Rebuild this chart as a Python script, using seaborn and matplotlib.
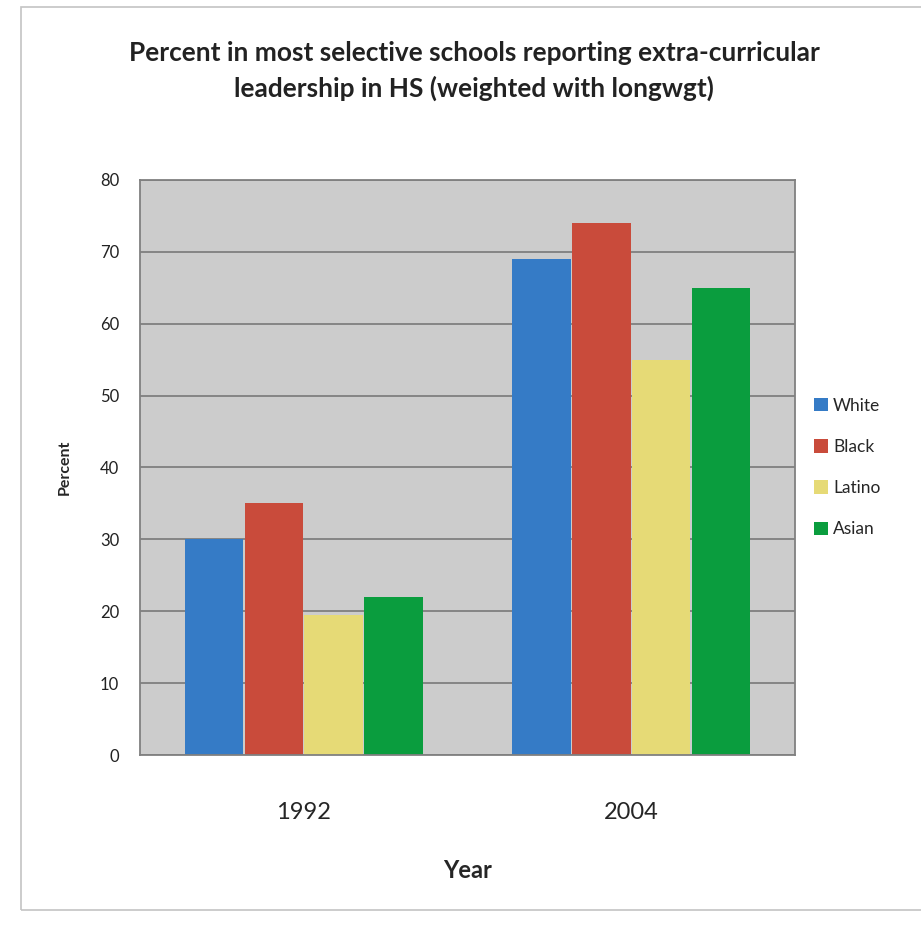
import matplotlib
matplotlib.use("Agg")
import matplotlib.pyplot as plt
from matplotlib.patches import Rectangle
import seaborn as sns
import pandas as pd

years = ["1992", "2004"]
groups = ["White", "Black", "Latino", "Asian"]
white = [30, 69]
black = [35, 74]
latino = [19.5, 55]
asian = [22, 65]
colors = ["#357BC6", "#C94B3B", "#E6DA76", "#0A9D3E"]
y_ticks = [0, 10, 20, 30, 40, 50, 60, 70, 80]
title = ("Percent in most selective schools reporting extra-curricular\n"
         "leadership in HS (weighted with longwgt)")

rows = []
for series, vals in zip(groups, [white, black, latino, asian]):
    for yr, v in zip(years, vals):
        rows.append({"Year": yr, "Group": series, "Percent": v})
df = pd.DataFrame(rows)

sns.set_theme(style="white")
plt.rcParams["font.family"] = ["Lato", "DejaVu Sans"]

W, H = 921, 926
fig = plt.figure(figsize=(W / 100, H / 100), dpi=100)
ax = fig.add_axes([140 / W, 1 - 755 / H, (795 - 140) / W, (755 - 180) / H])

# outer chart-area frame
fig.patches.append(Rectangle((21 / W, 1 - 910 / H), 2, (910 - 7) / H,
                             transform=fig.transFigure, fill=False,
                             edgecolor="#c4c4c4", linewidth=1.2))

ax.set_facecolor("#cccccc")
sns.barplot(data=df, x="Year", y="Percent", hue="Group", order=years,
            hue_order=groups, palette=colors, width=0.73, gap=0.02,
            saturation=1, linewidth=0, ax=ax, legend=True)

ax.set_ylim(0, 80)
ax.set_xlim(-0.5, 1.5)
ax.set_yticks(y_ticks)
ax.yaxis.grid(True, color="#7f7f7f", linewidth=1.3)
ax.set_axisbelow(True)
for s in ax.spines.values():
    s.set_color("#808080")
    s.set_linewidth(1.3)

ax.tick_params(axis="y", which="major", direction="out", length=6,
               color="#808080", width=1.2, labelsize=12, pad=9)
ax.tick_params(axis="x", which="major", length=0, labelsize=17, pad=34)
ax.set_xticks([-0.5, 0.5, 1.5], minor=True)
ax.tick_params(axis="x", which="minor", direction="out", length=6,
               color="#808080", width=1.2)
for t in ax.get_yticklabels():
    t.set_color("#222222")

ax.set_xlabel("Year", fontsize=17, fontweight="bold", labelpad=26)
ax.set_ylabel("Percent", fontsize=11.5, fontweight="bold", labelpad=20)

fig.text(474 / W, 1 - 71 / H, title, ha="center", va="center",
         fontsize=18.9, fontweight="bold", linespacing=1.5, color="#222222")

handles, labels = ax.get_legend_handles_labels()
ax.legend(handles, labels, loc="center left", bbox_to_anchor=(1.005, 0.5),
          frameon=False, fontsize=12.5, handlelength=0.8, handleheight=0.8,
          handletextpad=0.3, labelspacing=1.45)

fig.savefig("out.png", dpi=100, facecolor="white")
